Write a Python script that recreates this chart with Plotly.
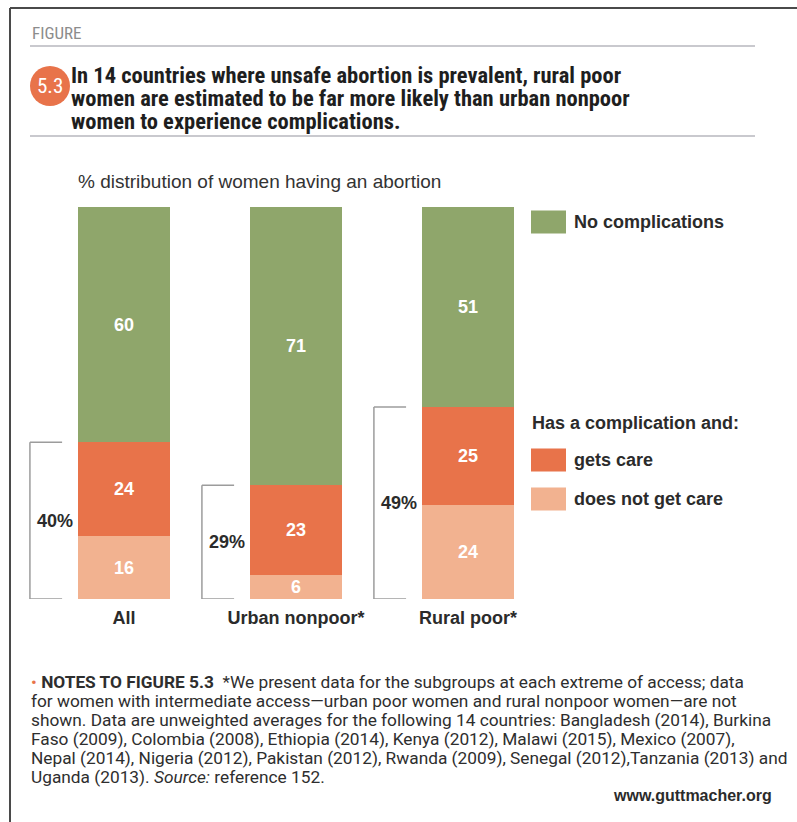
import plotly.graph_objects as go

W, H = 797, 822

categories = ["All", "Urban nonpoor*", "Rural poor*"]
no_complications = [60, 71, 51]
gets_care = [24, 23, 25]
no_care = [16, 6, 24]
complication_total = ["40%", "29%", "49%"]

legend_labels = ["No complications", "gets care", "does not get care"]
legend_header = "Has a complication and:"

title_lines = ["In 14 countries where unsafe abortion is prevalent, rural poor",
               "women are estimated to be far more likely than urban nonpoor",
               "women to experience complications."]
note_lines = [
    "<span style='color:#e8734a'>•</span> <b>NOTES TO FIGURE 5.3</b>  *We present data for the subgroups at each extreme of access; data",
    "for women with intermediate access—urban poor women and rural nonpoor women—are not",
    "shown. Data are unweighted averages for the following 14 countries: Bangladesh (2014), Burkina",
    "Faso (2009), Colombia (2008), Ethiopia (2014), Kenya (2012), Malawi (2015), Mexico (2007),",
    "Nepal (2014), Nigeria (2012), Pakistan (2012), Rwanda (2009), Senegal (2012),Tanzania (2013) and",
    "Uganda (2013). <i>Source:</i> reference 152.",
]

GREEN = "#8fa66b"
ORANGE = "#e8734a"
PEACH = "#f2b290"
DARK = "#2b2b2b"
BOLD = "Liberation Sans, Arial, sans-serif"
NARROW = "Roboto Condensed, DejaVu Sans Condensed, sans-serif"
NOTEF = "Roboto, Liberation Sans, sans-serif"


def px(x):
    return x / W


def py(y):
    return 1 - y / H


fig = go.Figure()
series = [(no_care, PEACH, legend_labels[2]),
          (gets_care, ORANGE, legend_labels[1]),
          (no_complications, GREEN, legend_labels[0])]
for vals, col, name in series:
    fig.add_trace(go.Bar(
        x=categories, y=vals, name=name, marker=dict(color=col, line=dict(width=0)),
        width=0.53, text=vals, texttemplate="%{text}", textposition="inside",
        insidetextanchor="middle", textangle=0,
        textfont=dict(color="white", size=18, family=BOLD, weight="bold"),
        hoverinfo="skip", showlegend=False))

shapes = []
annotations = []


def paper_text(text, x, y, font, xanchor="left", yanchor="middle", align="left"):
    annotations.append(dict(text=text, x=px(x), y=py(y), xref="paper", yref="paper", showarrow=False,
                            xanchor=xanchor, yanchor=yanchor, align=align, font=font))


# frame
shapes.append(dict(type="line", xref="paper", yref="paper", x0=px(10), x1=px(797), y0=py(8), y1=py(8),
                   line=dict(color="#4a4a4a", width=2)))
shapes.append(dict(type="line", xref="paper", yref="paper", x0=px(10), x1=px(10), y0=py(8), y1=py(822),
                   line=dict(color="#4a4a4a", width=2)))
# header rules
for yy in (46, 136):
    shapes.append(dict(type="line", xref="paper", yref="paper", x0=px(30), x1=px(755), y0=py(yy), y1=py(yy),
                       line=dict(color="#c9c9ce", width=2)))
# circle badge
shapes.append(dict(type="circle", xref="paper", yref="paper", x0=px(30), x1=px(70), y0=py(66), y1=py(106),
                   fillcolor=ORANGE, line=dict(width=0)))
paper_text("5.3", 50, 86, dict(family=NARROW, size=21, color="white"), xanchor="center", align="center")
paper_text("FIGURE", 30, 33, dict(family=NARROW, size=17, color="#8c8c8c"))
for k, t in enumerate(title_lines):
    paper_text("<b>" + t + "</b>", 69, 75 + 23 * k, dict(family=NARROW, size=22.5, color="#1e1e1e"))
paper_text("% distribution of women having an abortion", 76, 181,
           dict(family=BOLD, size=19, color="#333333"))

# brackets
for i, (a, b) in enumerate(zip(gets_care, no_care)):
    top = a + b
    xl, xr = i - 0.547, i - 0.36
    line = dict(color="#9c9c9c", width=1.5)
    shapes.append(dict(type="line", xref="x", yref="y", x0=xl, x1=xl, y0=0, y1=top, line=line))
    shapes.append(dict(type="line", xref="x", yref="y", x0=xl, x1=xr, y0=top, y1=top, line=line))
    shapes.append(dict(type="line", xref="x", yref="y", x0=xl, x1=xr, y0=0, y1=0, line=line))
    annotations.append(dict(text="<b>" + complication_total[i] + "</b>", x=i - 0.40, y=top / 2,
                            xref="x", yref="y", showarrow=False, xanchor="center", yanchor="middle",
                            font=dict(family=BOLD, size=18, color=DARK)))

# legend
legend_items = [(GREEN, legend_labels[0], 222), (ORANGE, legend_labels[1], 460), (PEACH, legend_labels[2], 499)]
for col, lab, yc in legend_items:
    shapes.append(dict(type="rect", xref="paper", yref="paper", x0=px(531), x1=px(566),
                       y0=py(yc - 11.5), y1=py(yc + 11.5), fillcolor=col, line=dict(width=0)))
    paper_text("<b>" + lab + "</b>", 572, yc, dict(family=BOLD, size=18, color=DARK))
paper_text("<b>" + legend_header + "</b>", 530, 423, dict(family=BOLD, size=18, color=DARK))

# notes
for k, t in enumerate(note_lines):
    paper_text(t, 29, 682 + 19 * k, dict(family=NOTEF, size=17.3, color="#2e2e2e"))
paper_text("<b>www.guttmacher.org</b>", 774, 795, dict(family=BOLD, size=16, color="#2b2b2b"),
           xanchor="right")

fig.update_layout(
    width=W, height=H, margin=dict(l=0, r=0, t=0, b=0),
    paper_bgcolor="white", plot_bgcolor="white",
    barmode="stack", bargap=0,
    uniformtext=dict(minsize=18, mode="show"),
    shapes=shapes, annotations=annotations,
    xaxis=dict(domain=[0, 1], range=[-0.721, 3.913], type="category",
               categoryorder="array", categoryarray=categories,
               tickvals=categories, ticktext=["<b>" + c + "</b>" for c in categories],
               tickfont=dict(family=BOLD, size=18, color=DARK),
               showgrid=False, zeroline=False, showline=False, ticks="outside", ticklen=2,
               tickcolor="rgba(0,0,0,0)"),
    yaxis=dict(domain=[py(599), py(207)], range=[0, 100], visible=False, fixedrange=True),
)

fig.write_html("out.html")
